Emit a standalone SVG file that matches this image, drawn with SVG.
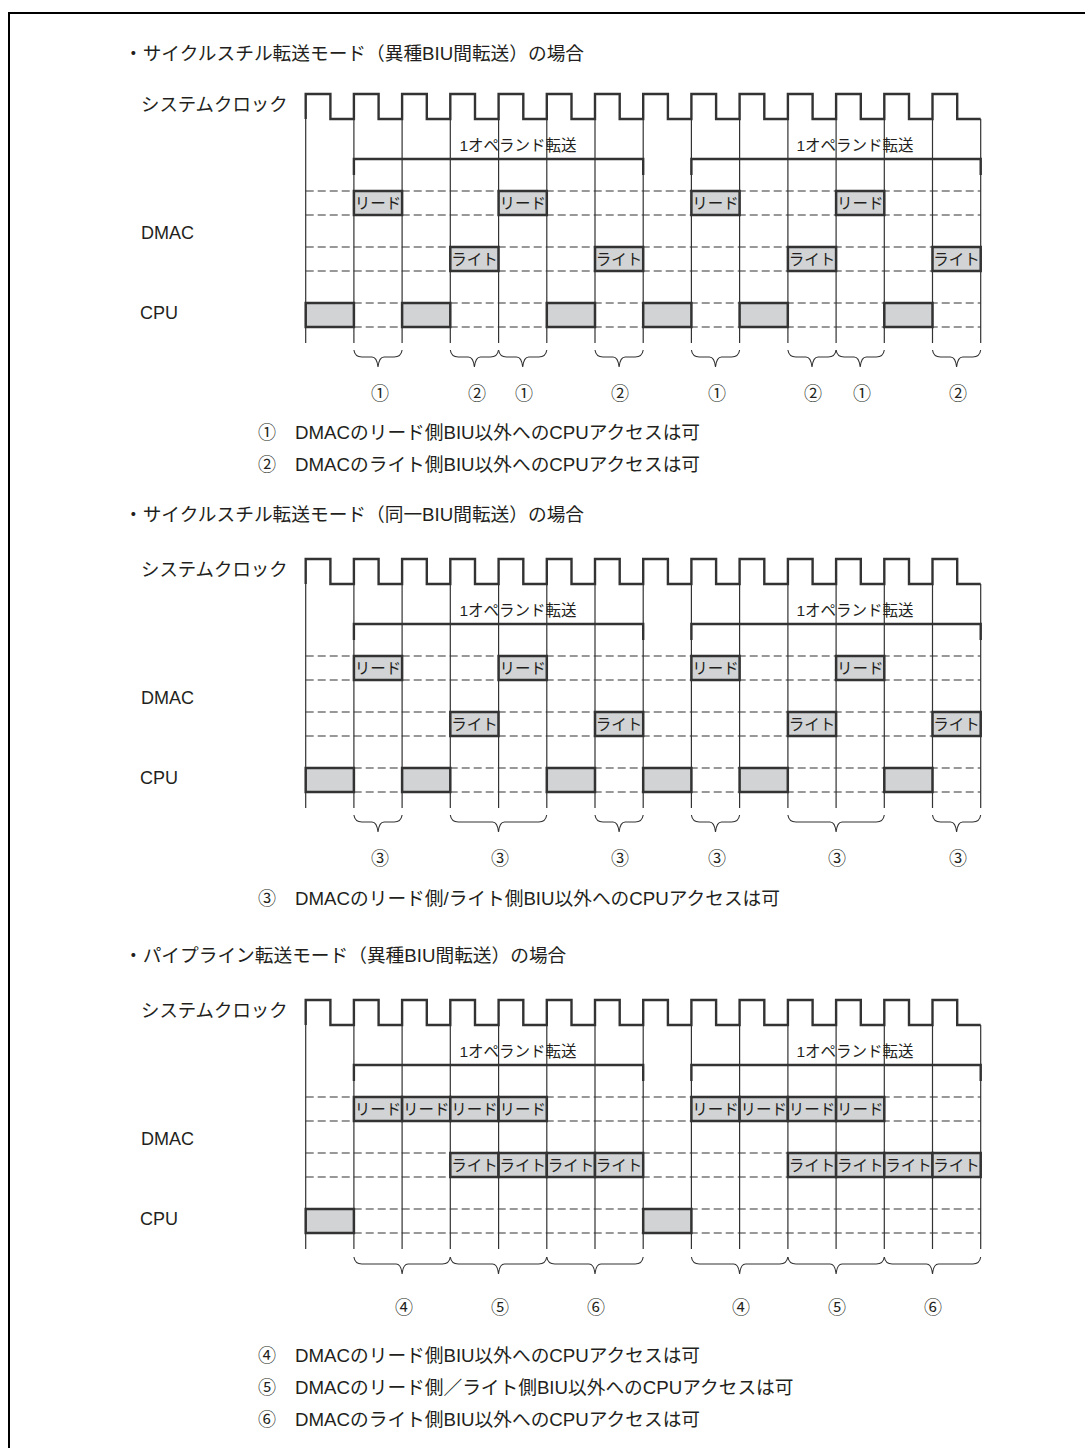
<svg xmlns="http://www.w3.org/2000/svg" width="1085" height="1448" viewBox="0 0 1085 1448">
<style>
text{font-family:"Liberation Sans","Noto Sans CJK JP",sans-serif;font-size:18px;fill:#231f20}
.c{text-anchor:middle}
.l{font-size:18.7px}
.k{font-size:18.4px}
.sm{font-size:15.5px}
.op{font-size:15.5px;text-anchor:middle}
.clk{fill:none;stroke:#333;stroke-width:2.4}
.g{fill:none;stroke:#333;stroke-width:1.2}
.d{fill:none;stroke:#333;stroke-width:1.2;stroke-dasharray:8 4}
.b{fill:#d1d3d4;stroke:#333;stroke-width:2.5}
.bar{fill:none;stroke:#333;stroke-width:2.4}
.br{fill:none;stroke:#333;stroke-width:1.1}
</style>
<defs>
<path id="clock" class="clk" d="M305.7 119V94H330.4V119H353.9V94H378.6V119H402.1V94H426.8V119H450.3V94H475V119H498.6V94H523.3V119H546.8V94H571.5V119H595V94H619.7V119H643.2V94H667.9V119H691.4V94H716.1V119H739.6V94H764.3V119H787.9V94H812.6V119H836.1V94H860.8V119H884.3V94H909V119H932.5V94H957.2V119H980.7"/>
<path id="grid" class="g" d="M305.7 119V343M353.9 119V343M402.1 119V343M450.3 119V343M498.6 119V343M546.8 119V343M595 119V343M643.2 119V343M691.4 119V343M739.6 119V343M787.9 119V343M836.1 119V343M884.3 119V343M932.5 119V343M980.7 119V343"/>
<path id="dash" class="d" d="M305.7 191H980.7M305.7 215H980.7M305.7 247H980.7M305.7 271H980.7M305.7 303H980.7M305.7 327H980.7"/>
<path id="bars" class="bar" d="M353.9 175V159H643.2V175M691.4 175V159H980.7V175"/>
<path id="br1" class="br" d="M0 0Q1 7 8 7H18Q23 7 24.1 17Q25.2 7 30.2 7H40.2Q47.2 7 48.2 0"/>
<path id="br2" class="br" d="M0 0Q1 7 8 7H42.2Q47.2 7 48.2 17Q49.2 7 54.2 7H88.4Q95.4 7 96.4 0"/>
</defs>
<rect width="1085" height="1448" fill="#fff"/>
<path id="frame" d="M9 1448V13H1085" fill="none" stroke="#000" stroke-width="2"/>

<g id="section1">
<text id="h1" class="l" x="124" y="60">・サイクルスチル転送モード（異種BIU間転送）の場合</text>
<g id="s1-connectors">
<use href="#grid"/><use href="#dash"/><use href="#clock"/><use href="#bars"/>
<use href="#br1" x="353.9" y="350"/><use href="#br1" x="450.3" y="350"/><use href="#br1" x="498.6" y="350"/><use href="#br1" x="595" y="350"/><use href="#br1" x="691.4" y="350"/><use href="#br1" x="787.9" y="350"/><use href="#br1" x="836.1" y="350"/><use href="#br1" x="932.5" y="350"/>
</g>
<g id="s1-labels">
<text class="k" x="141" y="111">システムクロック</text><text x="141" y="239">DMAC</text><text x="140" y="319">CPU</text>
<text class="op" x="518" y="151">1オペランド転送</text><text class="op" x="855" y="151">1オペランド転送</text>
</g>
<g id="s1-read1"><rect class="b" x="353.9" y="191" width="48.2" height="24"/><text class="sm c" x="378" y="208.7">リード</text></g>
<g id="s1-read2"><rect class="b" x="498.6" y="191" width="48.2" height="24"/><text class="sm c" x="522.7" y="208.7">リード</text></g>
<g id="s1-read3"><rect class="b" x="691.4" y="191" width="48.2" height="24"/><text class="sm c" x="715.5" y="208.7">リード</text></g>
<g id="s1-read4"><rect class="b" x="836.1" y="191" width="48.2" height="24"/><text class="sm c" x="860.2" y="208.7">リード</text></g>
<g id="s1-write1"><rect class="b" x="450.3" y="247" width="48.2" height="24"/><text class="sm c" x="474.4" y="264.7">ライト</text></g>
<g id="s1-write2"><rect class="b" x="595" y="247" width="48.2" height="24"/><text class="sm c" x="619.1" y="264.7">ライト</text></g>
<g id="s1-write3"><rect class="b" x="787.9" y="247" width="48.2" height="24"/><text class="sm c" x="812" y="264.7">ライト</text></g>
<g id="s1-write4"><rect class="b" x="932.5" y="247" width="48.2" height="24"/><text class="sm c" x="956.6" y="264.7">ライト</text></g>
<g id="s1-cpu1"><rect class="b" x="305.7" y="303" width="48.2" height="24"/></g>
<g id="s1-cpu2"><rect class="b" x="402.1" y="303" width="48.2" height="24"/></g>
<g id="s1-cpu3"><rect class="b" x="546.8" y="303" width="48.2" height="24"/></g>
<g id="s1-cpu4"><rect class="b" x="643.2" y="303" width="48.2" height="24"/></g>
<g id="s1-cpu5"><rect class="b" x="739.6" y="303" width="48.2" height="24"/></g>
<g id="s1-cpu6"><rect class="b" x="884.3" y="303" width="48.2" height="24"/></g>
<g id="s1-marks">
<text class="c" x="380" y="400">①</text><text class="c" x="477" y="400">②</text><text class="c" x="524" y="400">①</text><text class="c" x="620" y="400">②</text><text class="c" x="717" y="400">①</text><text class="c" x="813" y="400">②</text><text class="c" x="862" y="400">①</text><text class="c" x="958" y="400">②</text>
</g>
<g id="s1-notes">
<text x="258" y="439">①</text><text class="l" x="295" y="439">DMACのリード側BIU以外へのCPUアクセスは可</text>
<text x="258" y="471">②</text><text class="l" x="295" y="471">DMACのライト側BIU以外へのCPUアクセスは可</text>
</g>
</g>

<g id="section2">
<text id="h2" class="l" x="124" y="521">・サイクルスチル転送モード（同一BIU間転送）の場合</text>
<g transform="translate(0 465)">
<g id="s2-connectors">
<use href="#grid"/><use href="#dash"/><use href="#clock"/><use href="#bars"/>
<use href="#br1" x="353.9" y="350"/><use href="#br2" x="450.3" y="350"/><use href="#br1" x="595" y="350"/><use href="#br1" x="691.4" y="350"/><use href="#br2" x="787.9" y="350"/><use href="#br1" x="932.5" y="350"/>
</g>
<g id="s2-labels">
<text class="k" x="141" y="111">システムクロック</text><text x="141" y="239">DMAC</text><text x="140" y="319">CPU</text>
<text class="op" x="518" y="151">1オペランド転送</text><text class="op" x="855" y="151">1オペランド転送</text>
</g>
<g id="s2-read1"><rect class="b" x="353.9" y="191" width="48.2" height="24"/><text class="sm c" x="378" y="208.7">リード</text></g>
<g id="s2-read2"><rect class="b" x="498.6" y="191" width="48.2" height="24"/><text class="sm c" x="522.7" y="208.7">リード</text></g>
<g id="s2-read3"><rect class="b" x="691.4" y="191" width="48.2" height="24"/><text class="sm c" x="715.5" y="208.7">リード</text></g>
<g id="s2-read4"><rect class="b" x="836.1" y="191" width="48.2" height="24"/><text class="sm c" x="860.2" y="208.7">リード</text></g>
<g id="s2-write1"><rect class="b" x="450.3" y="247" width="48.2" height="24"/><text class="sm c" x="474.4" y="264.7">ライト</text></g>
<g id="s2-write2"><rect class="b" x="595" y="247" width="48.2" height="24"/><text class="sm c" x="619.1" y="264.7">ライト</text></g>
<g id="s2-write3"><rect class="b" x="787.9" y="247" width="48.2" height="24"/><text class="sm c" x="812" y="264.7">ライト</text></g>
<g id="s2-write4"><rect class="b" x="932.5" y="247" width="48.2" height="24"/><text class="sm c" x="956.6" y="264.7">ライト</text></g>
<g id="s2-cpu1"><rect class="b" x="305.7" y="303" width="48.2" height="24"/></g>
<g id="s2-cpu2"><rect class="b" x="402.1" y="303" width="48.2" height="24"/></g>
<g id="s2-cpu3"><rect class="b" x="546.8" y="303" width="48.2" height="24"/></g>
<g id="s2-cpu4"><rect class="b" x="643.2" y="303" width="48.2" height="24"/></g>
<g id="s2-cpu5"><rect class="b" x="739.6" y="303" width="48.2" height="24"/></g>
<g id="s2-cpu6"><rect class="b" x="884.3" y="303" width="48.2" height="24"/></g>
<g id="s2-marks">
<text class="c" x="380" y="400">③</text><text class="c" x="500" y="400">③</text><text class="c" x="620" y="400">③</text><text class="c" x="717" y="400">③</text><text class="c" x="837" y="400">③</text><text class="c" x="958" y="400">③</text>
</g>
<g id="s2-notes">
<text x="258" y="440">③</text><text class="l" x="295" y="440">DMACのリード側/ライト側BIU以外へのCPUアクセスは可</text>
</g>
</g>
</g>

<g id="section3">
<text id="h3" class="l" x="124" y="962">・パイプライン転送モード（異種BIU間転送）の場合</text>
<g transform="translate(0 906)">
<g id="s3-connectors">
<use href="#grid"/><use href="#dash"/><use href="#clock"/><use href="#bars"/>
<use href="#br2" x="353.9" y="351"/><use href="#br2" x="450.3" y="351"/><use href="#br2" x="546.8" y="351"/><use href="#br2" x="691.4" y="351"/><use href="#br2" x="787.9" y="351"/><use href="#br2" x="884.3" y="351"/>
</g>
<g id="s3-labels">
<text class="k" x="141" y="111">システムクロック</text><text x="141" y="239">DMAC</text><text x="140" y="319">CPU</text>
<text class="op" x="518" y="151">1オペランド転送</text><text class="op" x="855" y="151">1オペランド転送</text>
</g>
<g id="s3-read1"><rect class="b" x="353.9" y="191" width="48.2" height="24"/><text class="sm c" x="378" y="208.7">リード</text></g>
<g id="s3-read2"><rect class="b" x="402.1" y="191" width="48.2" height="24"/><text class="sm c" x="426.2" y="208.7">リード</text></g>
<g id="s3-read3"><rect class="b" x="450.3" y="191" width="48.2" height="24"/><text class="sm c" x="474.4" y="208.7">リード</text></g>
<g id="s3-read4"><rect class="b" x="498.6" y="191" width="48.2" height="24"/><text class="sm c" x="522.7" y="208.7">リード</text></g>
<g id="s3-read5"><rect class="b" x="691.4" y="191" width="48.2" height="24"/><text class="sm c" x="715.5" y="208.7">リード</text></g>
<g id="s3-read6"><rect class="b" x="739.6" y="191" width="48.2" height="24"/><text class="sm c" x="763.7" y="208.7">リード</text></g>
<g id="s3-read7"><rect class="b" x="787.9" y="191" width="48.2" height="24"/><text class="sm c" x="812" y="208.7">リード</text></g>
<g id="s3-read8"><rect class="b" x="836.1" y="191" width="48.2" height="24"/><text class="sm c" x="860.2" y="208.7">リード</text></g>
<g id="s3-write1"><rect class="b" x="450.3" y="247" width="48.2" height="24"/><text class="sm c" x="474.4" y="264.7">ライト</text></g>
<g id="s3-write2"><rect class="b" x="498.6" y="247" width="48.2" height="24"/><text class="sm c" x="522.7" y="264.7">ライト</text></g>
<g id="s3-write3"><rect class="b" x="546.8" y="247" width="48.2" height="24"/><text class="sm c" x="570.9" y="264.7">ライト</text></g>
<g id="s3-write4"><rect class="b" x="595" y="247" width="48.2" height="24"/><text class="sm c" x="619.1" y="264.7">ライト</text></g>
<g id="s3-write5"><rect class="b" x="787.9" y="247" width="48.2" height="24"/><text class="sm c" x="812" y="264.7">ライト</text></g>
<g id="s3-write6"><rect class="b" x="836.1" y="247" width="48.2" height="24"/><text class="sm c" x="860.2" y="264.7">ライト</text></g>
<g id="s3-write7"><rect class="b" x="884.3" y="247" width="48.2" height="24"/><text class="sm c" x="908.4" y="264.7">ライト</text></g>
<g id="s3-write8"><rect class="b" x="932.5" y="247" width="48.2" height="24"/><text class="sm c" x="956.6" y="264.7">ライト</text></g>
<g id="s3-cpu1"><rect class="b" x="305.7" y="303" width="48.2" height="24"/></g>
<g id="s3-cpu2"><rect class="b" x="643.2" y="303" width="48.2" height="24"/></g>
<g id="s3-marks">
<text class="c" x="404" y="408">④</text><text class="c" x="500" y="408">⑤</text><text class="c" x="596" y="408">⑥</text><text class="c" x="741" y="408">④</text><text class="c" x="837" y="408">⑤</text><text class="c" x="933" y="408">⑥</text>
</g>
<g id="s3-notes">
<text x="258" y="456">④</text><text class="l" x="295" y="456">DMACのリード側BIU以外へのCPUアクセスは可</text>
<text x="258" y="488">⑤</text><text class="l" x="295" y="488">DMACのリード側／ライト側BIU以外へのCPUアクセスは可</text>
<text x="258" y="520">⑥</text><text class="l" x="295" y="520">DMACのライト側BIU以外へのCPUアクセスは可</text>
</g>
</g>
</g>
</svg>
